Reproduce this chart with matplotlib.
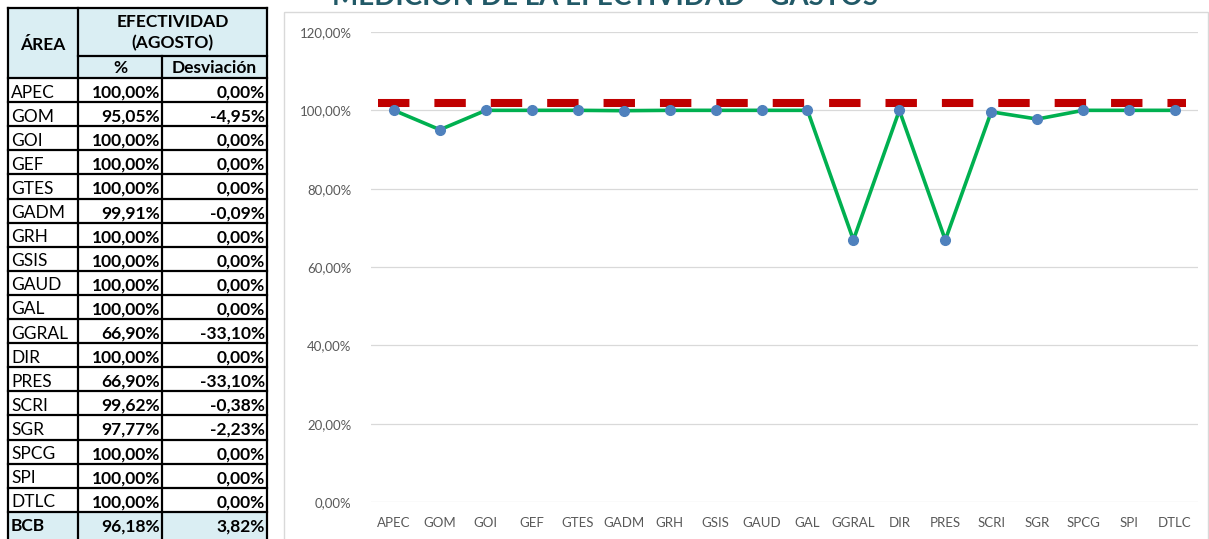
import numpy as np
import matplotlib
matplotlib.use("Agg")
import matplotlib.pyplot as plt
from matplotlib.patches import Rectangle

plt.rcParams['font.family'] = ['Lato', 'DejaVu Sans']

areas = ['APEC', 'GOM', 'GOI', 'GEF', 'GTES', 'GADM', 'GRH', 'GSIS', 'GAUD',
         'GAL', 'GGRAL', 'DIR', 'PRES', 'SCRI', 'SGR', 'SPCG', 'SPI', 'DTLC']
efectividad = [1.0, 0.9505, 1.0, 1.0, 1.0, 0.9991, 1.0, 1.0, 1.0,
               1.0, 0.669, 1.0, 0.669, 0.9962, 0.9777, 1.0, 1.0, 1.0]
desviacion = [0.0, -0.0495, 0.0, 0.0, 0.0, -0.0009, 0.0, 0.0, 0.0,
              0.0, -0.331, 0.0, -0.331, -0.0038, -0.0223, 0.0, 0.0, 0.0]
total_area = 'BCB'
total_efect = 0.9618
total_desv = 0.0382
meta = 1.02
yticks = [0, 0.2, 0.4, 0.6, 0.8, 1.0, 1.2]

def pct(v):
    return ('%.2f%%' % (v * 100)).replace('.', ',')

W, H = 1209, 539
fig = plt.figure(figsize=(W / 100, H / 100), dpi=100)

# overlay in pixel coords for the table, title and chart frame
ov = fig.add_axes([0, 0, 1, 1])
ov.set_xlim(0, W)
ov.set_ylim(H, 0)
ov.axis('off')

# chart frame
ov.add_patch(Rectangle((284, 12), W - 285, H, fill=False, ec='#D9D9D9', lw=1))
ov.text(605, 5, 'MEDICIÓN DE LA EFECTIVIDAD - GASTOS', ha='center', va='baseline',
        fontsize=20, fontweight='bold', color='#215967')

# table
xs = [8, 78, 162, 267]
hdr_top, hdr_mid, hdr_bot = 8, 56, 78
rh = 24.1
fill = '#DAEEF3'
lw = 1.6
fs = 12.5

ov.add_patch(Rectangle((xs[0], hdr_top), xs[3] - xs[0], hdr_bot - hdr_top, fc=fill, ec='none'))
ov.text((xs[0] + xs[1]) / 2, 45, 'ÁREA', ha='center', va='center', fontsize=fs, fontweight='bold')
ov.text((xs[1] + xs[3]) / 2, 22, 'EFECTIVIDAD', ha='center', va='center', fontsize=fs, fontweight='bold')
ov.text((xs[1] + xs[3]) / 2, 43, '(AGOSTO)', ha='center', va='center', fontsize=fs, fontweight='bold')
ov.text((xs[1] + xs[2]) / 2, 68, '%', ha='center', va='center', fontsize=fs, fontweight='bold')
ov.text((xs[2] + xs[3]) / 2, 68, 'Desviación', ha='center', va='center', fontsize=fs, fontweight='bold')

rows = list(zip(areas, efectividad, desviacion)) + [(total_area, total_efect, total_desv)]
for i, (a, e, d) in enumerate(rows):
    y0 = hdr_bot + i * rh
    last = i == len(rows) - 1
    if last:
        ov.add_patch(Rectangle((xs[0], y0), xs[3] - xs[0], rh + 5, fc=fill, ec='none'))
    yb = y0 + rh - 4.5
    ov.text(xs[0] + 3, yb, a, ha='left', va='baseline', fontsize=fs,
            fontweight='bold' if last else 'normal')
    ov.text(xs[2] - 2, yb, pct(e), ha='right', va='baseline', fontsize=fs, fontweight='bold')
    ov.text(xs[3] - 2, yb, pct(d), ha='right', va='baseline', fontsize=fs, fontweight='bold')
    ov.plot([xs[0], xs[3]], [y0, y0], color='black', lw=lw)

bottom = hdr_bot + len(rows) * rh + 5
ov.plot([xs[0], xs[3]], [hdr_top, hdr_top], color='black', lw=lw)
ov.plot([xs[1], xs[3]], [hdr_mid, hdr_mid], color='black', lw=lw)
for k, x in enumerate(xs):
    top = hdr_mid if k == 2 else hdr_top
    ov.plot([x, x], [top, bottom], color='black', lw=lw)

# chart
ax = fig.add_axes([371 / W, (H - 502) / H, (1198 - 371) / W, (502 - 32) / H])
ax.set_facecolor('none')
x = np.arange(len(areas))

ax.plot([x[0] - 0.35, x[-1] + 0.24], [meta, meta], color='#C00000', lw=5.8,
        dashes=(3.9, 3.1), solid_capstyle='butt', dash_capstyle='butt', zorder=2)
ax.plot(x, efectividad, color='#00B050', lw=2.6, zorder=3)
ax.plot(x, efectividad, 'o', color='#4F81BD', ms=7, mec='#4F81BD', zorder=4)

ax.set_xlim(-0.5, len(areas) - 0.5)
ax.set_ylim(0, 1.2)
ax.set_yticks(yticks)
ax.set_yticklabels([pct(v) for v in yticks])
ax.set_xticks(x)
ax.set_xticklabels(areas)
ax.grid(axis='y', color='#D9D9D9', lw=0.9)
ax.set_axisbelow(True)
for s in ax.spines.values():
    s.set_visible(False)
ax.tick_params(axis='both', length=0, labelsize=9.5, colors='#595959')
ax.tick_params(axis='y', pad=14)
ax.tick_params(axis='x', pad=11)

fig.savefig('out.png', dpi=100)
